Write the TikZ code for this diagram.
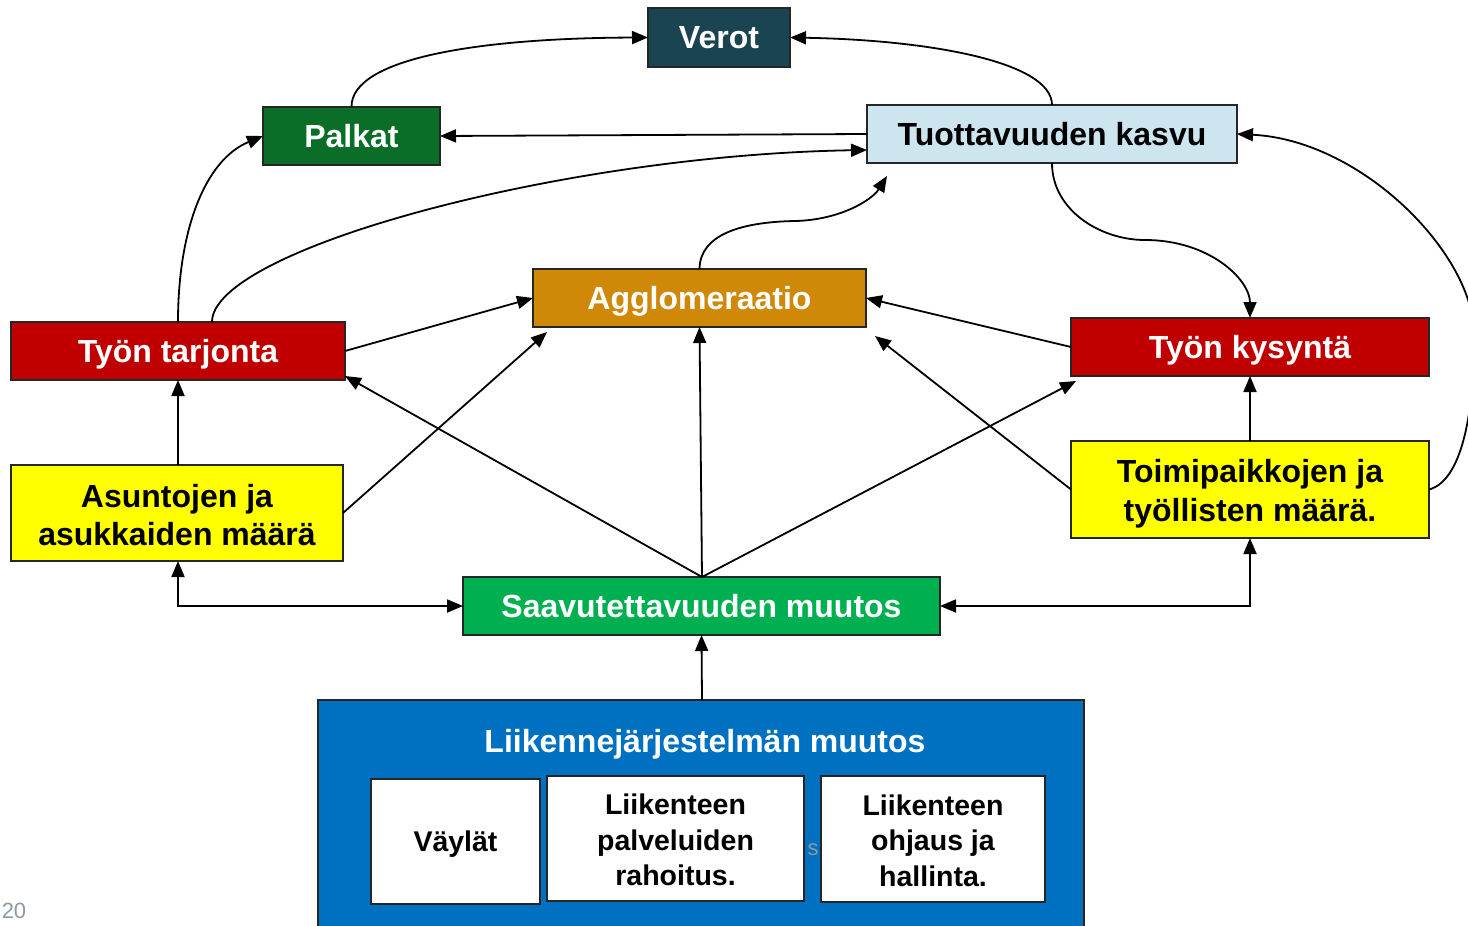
\documentclass[tikz,border=0pt]{standalone}
\usepackage{fontspec}
\setmainfont{Liberation Sans}
\usetikzlibrary{arrows.meta}
\definecolor{cverot}{HTML}{1B4452}
\definecolor{cpalkat}{HTML}{0A6E28}
\definecolor{ctuot}{HTML}{CCE5EF}
\definecolor{cagg}{HTML}{D08808}
\definecolor{cred}{HTML}{C00000}
\definecolor{cyel}{HTML}{FFFF00}
\definecolor{cgreen}{HTML}{00B050}
\definecolor{cblue}{HTML}{0070C0}
\definecolor{cgraytxt}{HTML}{8C9AA4}
\begin{document}
\begin{tikzpicture}[x=1pt,y=-1pt,
  box/.style={draw=black!85, line width=1.6pt, inner sep=0pt, outer sep=0pt, align=center,
    font=\fontsize{32}{38.5}\selectfont\bfseries},
  onebox/.style={box, text height=22.5pt, text depth=0pt},
  wbox/.style={onebox, text=white},
  txt/.style={inner sep=0pt, align=center, font=\fontsize{32}{38.5}\selectfont\bfseries},
  smallbox/.style={box, fill=white, font=\fontsize{28.5}{35.5}\selectfont\bfseries},
  arr/.style={line width=1.8pt, -{Triangle[length=16pt,width=13pt]}},
  darr/.style={line width=1.8pt, {Triangle[length=16pt,width=13pt]}-{Triangle[length=16pt,width=13pt]}}]
\useasboundingbox (0,0) rectangle (1468,926);
\fill[white] (0,0) rectangle (1468,926);

% nodes
\node[wbox, fill=cverot, minimum width=142pt, minimum height=59pt] (verot) at (719,37.5) {Verot};
\node[wbox, fill=cpalkat, minimum width=177pt, minimum height=58pt] (palkat) at (351.5,136) {Palkat};
\node[onebox, fill=ctuot, minimum width=370pt, minimum height=58pt] (tuot) at (1052,134) {Tuottavuuden kasvu};
\node[wbox, fill=cagg, minimum width=333pt, minimum height=58pt] (agg) at (699.5,298) {Agglomeraatio};
\node[wbox, fill=cred, minimum width=334pt, minimum height=58pt] (tt) at (178,351) {Työn tarjonta};
\node[wbox, fill=cred, minimum width=358pt, minimum height=58pt] (tk) at (1250,347) {Työn kysyntä};
\node[box, fill=cyel, minimum width=332pt, minimum height=96pt] (asu) at (177,513) {};
\node[txt, font=\fontsize{32}{38}\selectfont\bfseries] (asutxt) at (177,515) {Asuntojen ja\\asukkaiden määrä};
\node[box, fill=cyel, minimum width=358pt, minimum height=97pt] (toimi) at (1250,489.5) {};
\node[txt, font=\fontsize{32}{39}\selectfont\bfseries] (toimitxt) at (1250,493.5) {Toimipaikkojen ja\\työllisten määrä.};
\node[wbox, fill=cgreen, minimum width=477pt, minimum height=58pt] (saav) at (701.5,606) {Saavutettavuuden muutos};

% transport system block
\draw[draw=black!85, line width=1.8pt, fill=cblue] (318,700) rectangle (1084,940);
\coordinate (liik) at (702,700);
\node[text=white, font=\fontsize{32}{38}\selectfont\bfseries, inner sep=0pt, text height=22.5pt, text depth=0pt] (liiktitle) at (705,741) {Liikennejärjestelmän muutos};
\node[text=cgraytxt, font=\fontsize{22}{26}\selectfont, inner sep=0pt] (sfrag) at (813,850) {s};
\node[smallbox, minimum width=169pt, minimum height=125pt, text height=20.5pt, text depth=0pt] (vaylat) at (455.5,841.5) {Väylät};
\node[smallbox, minimum width=257pt, minimum height=125pt] (palv) at (675.5,838.5) {};
\node[txt, font=\fontsize{28.5}{35.5}\selectfont\bfseries] (palvtxt) at (675.5,840) {Liikenteen\\palveluiden\\rahoitus.};
\node[smallbox, minimum width=224pt, minimum height=126pt] (ohj) at (933,839) {};
\node[txt, font=\fontsize{28.5}{35.5}\selectfont\bfseries] (ohjtxt) at (933,840.5) {Liikenteen\\ohjaus ja\\hallinta.};

\node[text=cgraytxt, font=\fontsize{22}{26}\selectfont, inner sep=0pt] (pnum) at (14,911) {20};

% free tips
\coordinate (aggTip) at (887,176);
\coordinate (asuTip) at (547,332);
\coordinate (toimiTip) at (875,336);
\coordinate (tkTip) at (1076,381);
\coordinate (saavTop) at (702,577);

% connectors
\draw[arr] (palkat.north) .. controls (351,58) and (480,38) .. (verot.west);
\draw[arr] (tuot.north) .. controls (1052,62) and (930,40) .. (verot.east);
\draw[arr] (tuot.west) -- (palkat.east);
\draw[arr] (tt.north) .. controls (178,230) and (205,160) .. (palkat.west);
\draw[arr] ([xshift=34pt]tt.north) .. controls (212,250) and (560,155) .. ([yshift=-16pt]tuot.west);
\draw[arr] (agg.north) .. controls (700,235) and (740,222) .. (795,221) .. controls (840,220) and (872,200) .. (aggTip);
\draw[arr] (tuot.south) .. controls (1052,210) and (1100,240) .. (1145,240) .. controls (1210,240) and (1250,280) .. (tk.north);
\draw[arr] (toimi.east) .. controls (1465,480) and (1475,400) .. (1474,330) .. controls (1470,250) and (1360,140) .. (tuot.east);
\draw[arr] (tt.east) -- (agg.west);
\draw[arr] (tk.west) -- (agg.east);
\draw[arr] (asu.east) -- (asuTip);
\draw[arr] (toimi.west) -- (toimiTip);
\draw[arr] (saavTop) -- ([yshift=4pt]tt.south east);
\draw[arr] (saavTop) -- (agg.south);
\draw[arr] (saavTop) -- (tkTip);
\draw[darr] ([xshift=1pt]asu.south) |- (saav.west);
\draw[darr] (toimi.south) |- (saav.east);
\draw[arr] ([xshift=1pt]asu.north) -- (tt.south);
\draw[arr] (toimi.north) -- (tk.south);
\draw[arr] (liik) -- (saav.south);
\end{tikzpicture}
\end{document}
